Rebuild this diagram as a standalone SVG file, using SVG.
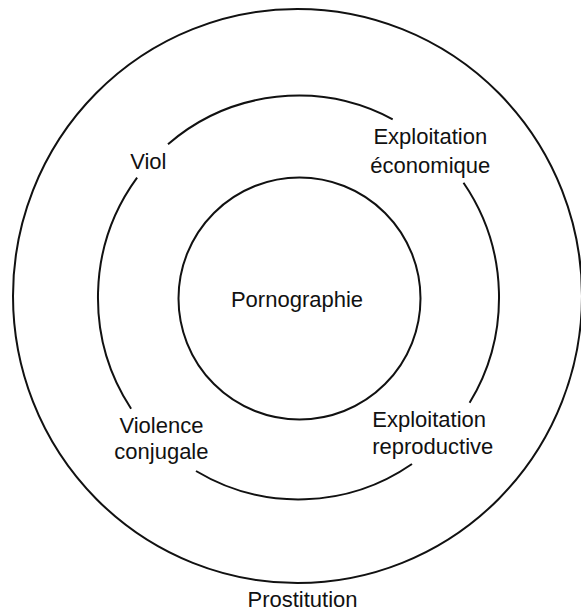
<svg xmlns="http://www.w3.org/2000/svg" width="581" height="611" viewBox="0 0 581 611">
<style>
.ring{fill:none;stroke:#111;stroke-width:2}
.lbl{font-family:"Liberation Sans",Arial,sans-serif;font-size:22px;fill:#111}
.c{text-anchor:middle}
</style>
<rect width="581" height="611" fill="#fff"/>
<g id="prostitution">
<ellipse class="ring" cx="297.5" cy="296" rx="284.5" ry="287"/>
<text class="lbl c" x="302.5" y="606.5">Prostitution</text>
</g>
<g id="middle-ring">
<path class="ring" d="M168,144.2 A200.5 202 0 0 1 392.7,119.3"/>
<path class="ring" d="M463.5,182.7 A200.5 202 0 0 1 469.6,402.8"/>
<path class="ring" d="M412,464 A200.5 202 0 0 1 196,471"/>
<path class="ring" d="M131.1,408.7 A200.5 202 0 0 1 137.1,177.6"/>
</g>
<g id="viol">
<text class="lbl c" x="148.3" y="169">Viol</text>
</g>
<g id="exploitation-economique">
<text class="lbl c" x="430.3" y="144.3">Exploitation</text>
<text class="lbl c" x="430.3" y="172.7">économique</text>
</g>
<g id="violence-conjugale">
<text class="lbl c" x="161.4" y="433.3">Violence</text>
<text class="lbl c" x="161.4" y="459.3">conjugale</text>
</g>
<g id="exploitation-reproductive">
<text class="lbl c" x="429.2" y="427.3">Exploitation</text>
<text class="lbl c" x="432.8" y="453.5">reproductive</text>
</g>
<g id="pornographie">
<circle class="ring" cx="299.5" cy="298.5" r="121"/>
<text class="lbl c" x="297" y="306.7">Pornographie</text>
</g>
<g id="connectors"></g>
</svg>
